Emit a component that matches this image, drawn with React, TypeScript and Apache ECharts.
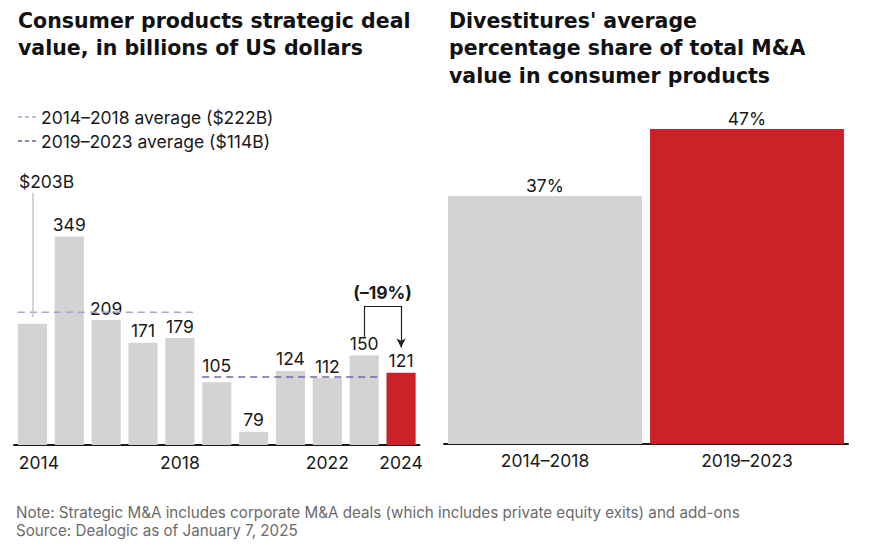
import React, { useEffect, useRef } from "react";
import * as echarts from "echarts";

// ---- data ----
const years = ["2014", "2015", "2016", "2017", "2018", "2019", "2020", "2021", "2022", "2023", "2024"];
const dealValues = [203, 349, 209, 171, 179, 105, 79, 124, 112, 150, 121];
// bar heights as drawn in the reference (the 2020 bar is drawn far shorter than its "79" label)
const drawnHeights = [203, 349, 209, 171, 179, 105, 22, 124, 112, 150, 121];
const shownYearLabels = ["2014", "2018", "2022", "2024"];

const avgNames = ["2014–2018 average ($222B)", "2019–2023 average ($114B)"];
const avgValues = [222, 114];
const avgFromIndex = [0, 5];
const avgToIndex = [4, 9];

const periods = ["2014–2018", "2019–2023"];
const divestShare = [37, 47];

const changeLabel = "(–19%)";
const firstBarLabel = "$203B";

const FONT = "Inter, 'Noto Sans', sans-serif";
const TITLE_FONT = "'DejaVu Sans', Inter, sans-serif";
const INK = "#1a1a1a";
const GREY = "#d3d3d3";
const RED = "#cc2129";
const AVG_COLORS = ["#a6a2cf", "#6c68a6"];
const BAR_GAP = 0.21;
const DASH_ICON = "path://M0,0h4v1.5h-4z M7,0h4v1.5h-4z M14,0h4v1.5h-4z";

export default function App() {
  const ref = useRef<HTMLDivElement>(null);

  useEffect(() => {
    if (!ref.current) return;
    const chart = echarts.init(ref.current, undefined, { renderer: "svg" });
    const half = (1 - BAR_GAP) / 2;
    const last = years.length - 1;

    const avgSeries = avgNames.map((name, i) => ({
      name,
      type: "line",
      xAxisIndex: 1,
      yAxisIndex: 0,
      symbol: "none",
      silent: true,
      color: AVG_COLORS[i],
      itemStyle: { color: AVG_COLORS[i] },
      lineStyle: { color: AVG_COLORS[i], width: 1.5, type: [7, 5] },
      data: [
        [avgFromIndex[i] - half, avgValues[i]],
        [avgToIndex[i] + half, avgValues[i]],
      ],
      z: 3,
    }));

    const bracketStart = dealValues[last - 1] + 31;
    const bracketTop = dealValues[last - 1] + 83;
    const bracketEnd = dealValues[last] + 42;

    const titleStyle = { fontFamily: TITLE_FONT, fontSize: 20.5, fontWeight: "bold", color: "#111", lineHeight: 27.5 };

    chart.setOption({
      animation: false,
      backgroundColor: "#ffffff",
      textStyle: { fontFamily: FONT },
      title: [
        {
          text: "Consumer products strategic deal\nvalue, in billions of US dollars",
          left: 13,
          top: 2,
          textStyle: titleStyle,
        },
        {
          text: "Divestitures' average\npercentage share of total M&A\nvalue in consumer products",
          left: 444,
          top: 2,
          textStyle: titleStyle,
        },
      ],
      legend: {
        data: avgNames.map((name) => ({ name, icon: DASH_ICON })),
        orient: "vertical",
        left: 13,
        top: 102,
        itemWidth: 18,
        itemHeight: 1.5,
        itemGap: 4,
        selectedMode: false,
        textStyle: { fontFamily: FONT, fontSize: 17.5, color: INK, lineHeight: 20 },
      },
      grid: [
        { left: 14, right: 452.5, top: 146.25, bottom: 105 },
        { left: 444, right: 24, top: 109, bottom: 106 },
      ],
      xAxis: [
        {
          type: "category",
          gridIndex: 0,
          data: years,
          axisTick: { show: false },
          axisLine: { lineStyle: { color: INK, width: 2 } },
          axisLabel: {
            interval: (_i: number, v: string) => shownYearLabels.includes(v),
            margin: 8,
            fontFamily: FONT,
            fontSize: 17.5,
            color: INK,
            formatter: (v: string) => (v === years[0] ? `{first|${v}}` : v),
            rich: { first: { padding: [0, 0, 0, 13], fontFamily: FONT, fontSize: 17.5, color: INK } },
          },
        },
        { type: "value", gridIndex: 0, min: -0.5, max: years.length - 0.5, show: false },
        {
          type: "category",
          gridIndex: 1,
          data: periods,
          axisTick: { show: false },
          axisLine: { lineStyle: { color: INK, width: 2 } },
          axisLabel: { margin: 7, fontFamily: FONT, fontSize: 17.5, color: INK },
        },
      ],
      yAxis: [
        { type: "value", gridIndex: 0, min: 0, max: 500, show: false, splitLine: { show: false } },
        { type: "value", gridIndex: 1, min: 0, max: 50, show: false, splitLine: { show: false } },
      ],
      series: [
        {
          type: "bar",
          xAxisIndex: 0,
          yAxisIndex: 0,
          barCategoryGap: `${BAR_GAP * 100}%`,
          data: drawnHeights.map((h, i) => ({
            value: h,
            itemStyle: { color: i === last ? RED : GREY },
            label: { show: i !== 0, formatter: String(dealValues[i]), distance: i === 5 ? 8 : 3 },
          })),
          label: { position: "top", distance: 3, fontFamily: FONT, fontSize: 17.5, color: INK },
          markPoint: {
            symbol: "rect",
            symbolSize: 1,
            itemStyle: { color: "rgba(0,0,0,0)" },
            silent: true,
            data: [
              {
                coord: [years[0], 440.7],
                label: {
                  show: true,
                  position: "inside",
                  align: "left",
                  offset: [-13.5, 0],
                  formatter: firstBarLabel,
                  fontFamily: FONT,
                  fontSize: 17.5,
                  color: INK,
                },
              },
            ],
          },
          markLine: {
            silent: true,
            symbol: ["none", "none"],
            label: { show: false },
            data: [
              [
                { coord: [years[0], 422], lineStyle: { color: "#c6c6c6", width: 1.5, type: "solid" } },
                { coord: [years[0], 214] },
              ],
              [
                { coord: [years[last - 1], bracketStart], lineStyle: { color: "#222", width: 1.2, type: "solid" } },
                { coord: [years[last - 1], bracketTop] },
              ],
              [
                {
                  coord: [years[last - 1], bracketTop],
                  lineStyle: { color: "#222", width: 1.2, type: "solid" },
                  label: {
                    show: true,
                    position: "insideMiddleTop",
                    distance: 4,
                    formatter: changeLabel,
                    fontFamily: FONT,
                    fontSize: 17.5,
                    fontWeight: "bold",
                    color: INK,
                  },
                },
                { coord: [years[last], bracketTop] },
              ],
              [
                { coord: [years[last], bracketTop], symbol: "none", lineStyle: { color: "#222", width: 1.2, type: "solid" } },
                { coord: [years[last], bracketEnd], symbol: "arrow", symbolSize: [7, 9] },
              ],
            ],
          },
          z: 2,
        },
        ...avgSeries,
        {
          type: "bar",
          xAxisIndex: 2,
          yAxisIndex: 1,
          barCategoryGap: "4%",
          data: divestShare.map((v, i) => ({ value: v, itemStyle: { color: i === 1 ? RED : GREY } })),
          label: {
            show: true,
            position: "top",
            distance: 2,
            formatter: "{c}%",
            fontFamily: FONT,
            fontSize: 17.5,
            color: INK,
          },
        },
      ],
      graphic: [
        {
          type: "text",
          left: 16,
          top: 505,
          style: {
            text: "Note: Strategic M&A includes corporate M&A deals (which includes private equity exits) and add-ons",
            fill: "#6b6b6b",
            font: `15.2px ${FONT}`,
          },
        },
        {
          type: "text",
          left: 16,
          top: 523,
          style: { text: "Source: Dealogic as of January 7, 2025", fill: "#6b6b6b", font: `15.2px ${FONT}` },
        },
      ],
    });

    return () => chart.dispose();
  }, []);

  return <div ref={ref} style={{ position: "absolute", left: 0, top: 0, width: 872, height: 550 }} />;
}
